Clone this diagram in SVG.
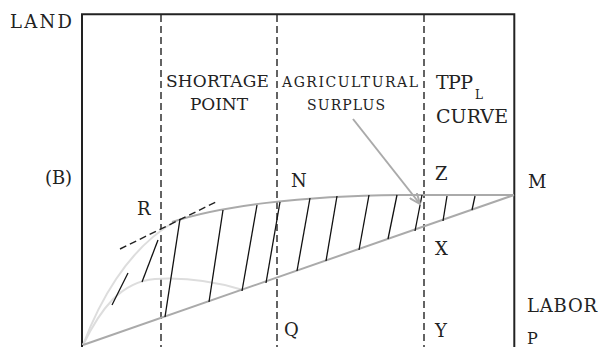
<svg xmlns="http://www.w3.org/2000/svg" width="600" height="347" viewBox="0 0 600 347">
<style>
text{font-family:"DejaVu Serif","Liberation Serif",serif;fill:#222}
.lbl{font-size:18px}
.frame{fill:none;stroke:#222;stroke-width:2}
.dash{fill:none;stroke:#222;stroke-width:1.4;stroke-dasharray:7 4}
.dk{fill:none;stroke:#aaa;stroke-width:2}
.lt{fill:none;stroke:#ddd;stroke-width:2}
.hatch{stroke:#111;stroke-width:1.3}
</style>
<defs>
<marker id="open" viewBox="0 0 12 10" refX="11" refY="5" markerWidth="12" markerHeight="10" markerUnits="userSpaceOnUse" orient="auto">
<path d="M0,0.5 L11,5 L0,9.5" fill="none" stroke="#aaa" stroke-width="2"/>
</marker>
</defs>
<rect width="600" height="347" fill="#fff"/>
<g id="frame">
<path class="frame" d="M82 347 V14.3 H514.3 V347"/>
</g>
<g id="dividers">
<line class="dash" x1="161" y1="15" x2="161" y2="347"/>
<line class="dash" x1="277" y1="15" x2="277" y2="347"/>
<line class="dash" x1="424" y1="15" x2="424" y2="347"/>
</g>
<g id="curves">
<path class="lt" d="M83 345 C98 305 126 250 174 222"/>
<path class="lt" d="M83 345 C100 310 120 282 155 279 C190 277 220 283 243 290"/>
<path class="dk" d="M172 222 C220 206 300 196 400 195 L514 195"/>
<path class="dk" d="M83 345 L514 195"/>
<line class="dash" x1="120" y1="249" x2="218" y2="201"/>
</g>
<g id="hatching">
<line class="hatch" x1="112" y1="305" x2="128" y2="273"/>
<line class="hatch" x1="142" y1="282" x2="158" y2="240"/>
<line class="hatch" x1="165" y1="317" x2="180" y2="219"/>
<line class="hatch" x1="209" y1="302" x2="223" y2="210"/>
<line class="hatch" x1="242" y1="291" x2="257" y2="205"/>
<line class="hatch" x1="266" y1="283" x2="280" y2="202"/>
<line class="hatch" x1="297" y1="271" x2="310" y2="198"/>
<line class="hatch" x1="326" y1="261" x2="337" y2="196"/>
<line class="hatch" x1="359" y1="250" x2="369" y2="195"/>
<line class="hatch" x1="388" y1="239" x2="397" y2="195"/>
<line class="hatch" x1="415" y1="231" x2="422" y2="195"/>
<line class="hatch" x1="443" y1="221" x2="447" y2="196"/>
<line class="hatch" x1="472" y1="210" x2="475" y2="196"/>
</g>
<g id="connectors">
<line class="dk" x1="353" y1="119" x2="420" y2="204" marker-end="url(#open)"/>
</g>
<g id="labels">
<text class="lbl" x="10" y="28" textLength="62">LAND</text>
<text x="166" y="87" font-size="17" textLength="103">SHORTAGE</text>
<text x="219" y="110" font-size="17" text-anchor="middle" textLength="58">POINT</text>
<text x="282" y="87" font-size="14" textLength="136">AGRICULTURAL</text>
<text x="346" y="110" font-size="14" text-anchor="middle" textLength="78">SURPLUS</text>
<text x="436" y="89" font-size="19" textLength="37">TPP</text>
<text x="475" y="99" font-size="12">L</text>
<text x="436" y="123" font-size="19" textLength="72">CURVE</text>
<text class="lbl" x="45" y="184" textLength="27">(B)</text>
<text class="lbl" x="291" y="187">N</text>
<text class="lbl" x="435" y="180">Z</text>
<text class="lbl" x="528" y="188">M</text>
<text class="lbl" x="137" y="215">R</text>
<text class="lbl" x="435" y="255">X</text>
<text class="lbl" x="527" y="312" textLength="70">LABOR</text>
<text class="lbl" x="284" y="336">Q</text>
<text class="lbl" x="435" y="337">Y</text>
<text x="527" y="344" font-size="16">P</text>
</g>
</svg>
